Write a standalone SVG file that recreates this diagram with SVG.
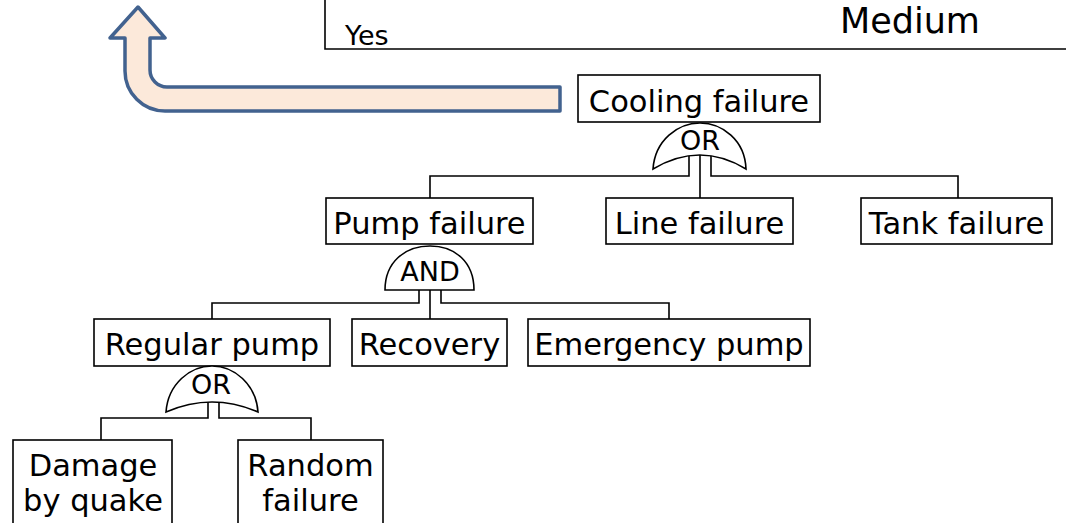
<svg xmlns="http://www.w3.org/2000/svg" width="1066" height="523" viewBox="0 0 1066 523">
<style>
.box{fill:#fff;stroke:#000;stroke-width:1.6}
.gate{fill:#fff;stroke:#000;stroke-width:1.6}
.ln{fill:none;stroke:#000;stroke-width:1.6}
text{font-family:"DejaVu Sans","Liberation Sans",sans-serif;fill:#000}
.t{font-size:30.5px;text-anchor:middle}
.g{font-size:27px;text-anchor:middle}
</style>
<rect width="1066" height="523" fill="#fff"/>
<g id="header">
<path class="ln" d="M325,0 V49 H1066"/>
<text x="345" y="45" font-size="27">Yes</text>
<text x="840" y="33" font-size="35">Medium</text>
</g>
<g id="arrow">
<path d="M138,7 L165,38 H150 V70 A17,17 0 0 0 167,87 H560 V111 H165 A40,40 0 0 1 125,71 V38 H110 Z" fill="#FCE9DA" stroke="#42628F" stroke-width="3.5" stroke-linejoin="round"/>
</g>
<g id="connectors">
<path class="ln" d="M689,155 V176 H430 V198"/>
<path class="ln" d="M700,155 V198"/>
<path class="ln" d="M711,155 V176 H958 V198"/>
<path class="ln" d="M419,290 V303 H212 V319"/>
<path class="ln" d="M430,290 V319"/>
<path class="ln" d="M441,290 V303 H669 V319"/>
<path class="ln" d="M208,402 V418 H101 V440"/>
<path class="ln" d="M219,402 V418 H311 V440"/>
</g>
<g id="cooling">
<rect class="box" x="578" y="75" width="242" height="47"/>
<text class="t" x="699" y="112">Cooling failure</text>
</g>
<g id="gate-or1">
<path class="gate" d="M653,169 C655,140 678,123 700,123 C722,123 745,140 746,169 Q700,141 653,169 Z"/>
<text class="g" x="700" y="150">OR</text>
</g>
<g id="pump">
<rect class="box" x="326" y="198" width="207" height="46"/>
<text class="t" x="429.5" y="234">Pump failure</text>
</g>
<g id="line">
<rect class="box" x="606" y="198" width="187" height="46"/>
<text class="t" x="699.5" y="234">Line failure</text>
</g>
<g id="tank">
<rect class="box" x="861" y="198" width="191" height="46"/>
<text class="t" x="956.5" y="234">Tank failure</text>
</g>
<g id="gate-and">
<path class="gate" d="M385,290 C385,262 405,246 430,246 C455,246 474,262 474,290 Z"/>
<text class="g" x="430" y="281">AND</text>
</g>
<g id="regular">
<rect class="box" x="94" y="319" width="236" height="47"/>
<text class="t" x="212" y="355">Regular pump</text>
</g>
<g id="recovery">
<rect class="box" x="352" y="319" width="155" height="47"/>
<text class="t" x="429.5" y="355">Recovery</text>
</g>
<g id="emergency">
<rect class="box" x="528" y="319" width="282" height="47"/>
<text class="t" x="669" y="355">Emergency pump</text>
</g>
<g id="gate-or2">
<path class="gate" d="M166,412 C168,384 190,366 212,366 C234,366 256,384 258,412 Q212,392 166,412 Z"/>
<text class="g" x="211" y="394">OR</text>
</g>
<g id="damage">
<rect class="box" x="13" y="440" width="159" height="100"/>
<text class="t" x="93" y="476">Damage</text>
<text class="t" x="93" y="511">by quake</text>
</g>
<g id="random">
<rect class="box" x="238" y="440" width="145" height="100"/>
<text class="t" x="310.5" y="476">Random</text>
<text class="t" x="310.5" y="511">failure</text>
</g>
</svg>
